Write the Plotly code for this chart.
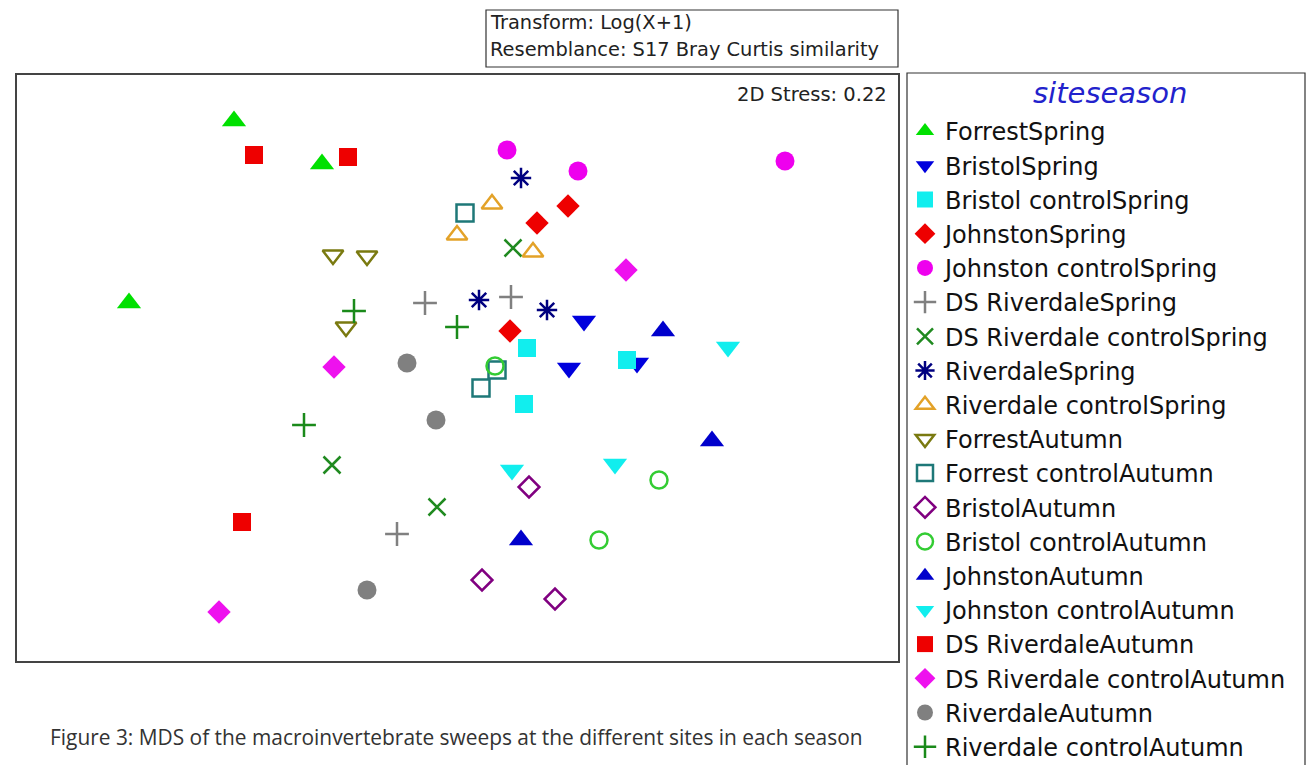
import plotly.graph_objects as go

# MDS ordination scores (arbitrary units, no tick labels)
groups = ['ForrestSpring', 'BristolSpring', 'Bristol controlSpring', 'JohnstonSpring',
          'Johnston controlSpring', 'DS RiverdaleSpring', 'DS Riverdale controlSpring',
          'RiverdaleSpring', 'Riverdale controlSpring', 'ForrestAutumn',
          'Forrest controlAutumn', 'BristolAutumn', 'Bristol controlAutumn',
          'JohnstonAutumn', 'Johnston controlAutumn', 'DS RiverdaleAutumn',
          'DS Riverdale controlAutumn', 'RiverdaleAutumn', 'Riverdale controlAutumn']

mds1 = [
    [2.17, 3.05, 1.12],
    [5.67, 5.52, 6.20],
    [5.10, 6.10, 5.07],
    [5.20, 5.51, 4.93],
    [4.90, 5.61, 7.68],
    [4.08, 4.94, 3.80],
    [4.96, 3.15, 4.20],
    [5.04, 4.62, 5.30],
    [4.75, 4.40, 5.16],
    [3.16, 3.50, 3.29],
    [4.48, 4.80, 4.64],
    [5.12, 4.65, 5.38],
    [4.78, 6.42, 5.82],
    [6.46, 6.95, 5.04],
    [7.11, 4.95, 5.98],
    [2.37, 3.31, 2.25],
    [6.09, 3.17, 2.02],
    [3.90, 4.19, 3.50],
    [3.37, 4.40, 2.87],
]
mds2 = [
    [5.40, 4.97, 3.58],
    [3.40, 2.93, 2.98],
    [3.13, 3.01, 2.57],
    [4.38, 4.55, 3.30],
    [5.11, 4.90, 5.00],
    [3.58, 3.64, 1.27],
    [4.13, 1.96, 1.54],
    [4.83, 3.61, 3.51],
    [4.57, 4.26, 4.09],
    [4.06, 4.05, 3.34],
    [4.48, 2.91, 2.73],
    [1.74, 0.81, 0.62],
    [2.95, 1.81, 1.21],
    [3.30, 2.20, 1.21],
    [3.14, 1.91, 1.97],
    [5.06, 5.04, 1.39],
    [3.91, 2.94, 0.49],
    [2.98, 2.41, 0.71],
    [3.50, 3.34, 2.36],
]

symbols = ['triangle-up', 'triangle-down', 'square', 'diamond', 'circle', 'cross-thin',
           'x-thin', 'asterisk-open', 'triangle-up-open', 'triangle-down-open',
           'square-open', 'diamond-open', 'circle-open', 'triangle-up', 'triangle-down',
           'square', 'diamond', 'circle', 'cross-thin']
colors = ['#00E000', '#0000DD', '#11EEEE', '#EE0000', '#EE00EE', '#808080', '#208A20',
          '#000080', '#E3A228', '#7A7A10', '#1E7878', '#800080', '#33CC33', '#0000CC',
          '#11EEEE', '#EE0000', '#EE11EE', '#808080', '#1A8A1A']
sizes = [21, 21, 18, 18, 19, 17, 17, 17, 18, 18, 17, 16, 17, 21, 21, 18, 18, 19, 17]

W, H = 1308, 765
L, R, T, B = 17, 898, 75, 661  # plot frame in pixels


def px(x):
    return (x - L) / (R - L)


def py(y):
    return 1 - (y - T) / (B - T)


fig = go.Figure()
for g, xs, ys, sym, col, sz in zip(groups, mds1, mds2, symbols, colors, sizes):
    lined = sym.endswith('open') or sym.endswith('thin')
    fig.add_trace(go.Scatter(
        x=xs, y=ys, mode='markers', name=g,
        marker=dict(symbol=sym, size=sz, color=col,
                    line=dict(color=col, width=2.5 if lined else 0)),
    ))

fig.update_xaxes(range=[0, 8.81], showline=True, mirror=True, linecolor='#444',
                 linewidth=1.5, showgrid=False, zeroline=False, showticklabels=False,
                 ticks='')
fig.update_yaxes(range=[0, 5.86], showline=True, mirror=True, linecolor='#444',
                 linewidth=1.5, showgrid=False, zeroline=False, showticklabels=False,
                 ticks='')

# Transform / resemblance box
fig.add_shape(type='rect', xref='paper', yref='paper',
              x0=px(486), x1=px(898), y0=py(67), y1=py(10),
              line=dict(color='#333', width=1.2), fillcolor='white')
fig.add_annotation(xref='paper', yref='paper', x=px(488), y=py(22),
                   xanchor='left', yanchor='middle', showarrow=False,
                   text='Transform: Log(X+1)',
                   font=dict(family='DejaVu Sans', size=19.4, color='#222'))
fig.add_annotation(xref='paper', yref='paper', x=px(488), y=py(49),
                   xanchor='left', yanchor='middle', showarrow=False,
                   text='Resemblance: S17 Bray Curtis similarity',
                   font=dict(family='DejaVu Sans', size=19.4, color='#222'))

fig.add_annotation(xref='paper', yref='paper', x=px(889), y=py(95),
                   xanchor='right', yanchor='middle', showarrow=False,
                   text='2D Stress: 0.22',
                   font=dict(family='DejaVu Sans', size=19.5, color='#222'))

# legend frame and title
fig.add_shape(type='rect', xref='paper', yref='paper',
              x0=px(907), x1=px(1305), y0=py(780), y1=py(73),
              line=dict(color='#333', width=1.2), fillcolor='white', layer='below')
fig.add_annotation(xref='paper', yref='paper', x=px(1110), y=py(93),
                   xanchor='center', yanchor='middle', showarrow=False,
                   text='siteseason',
                   font=dict(family='DejaVu Sans', size=29, color='#2222CC', style='italic'))

fig.add_annotation(xref='paper', yref='paper', x=px(48), y=py(737),
                   xanchor='left', yanchor='middle', showarrow=False,
                   text='Figure 3: MDS of the macroinvertebrate sweeps at the different sites in each season',
                   font=dict(family='Open Sans', size=20.9, color='#333'))

fig.update_layout(
    width=W, height=H,
    margin=dict(l=L, r=W - R, t=T, b=H - B, pad=0, autoexpand=False),
    paper_bgcolor='white', plot_bgcolor='white',
    showlegend=True,
    legend=dict(
        x=px(905), y=py(109), xanchor='left', yanchor='top',
        borderwidth=0, bgcolor='rgba(0,0,0,0)', maxheight=720,
        font=dict(family='DejaVu Sans', size=24, color='#111'),
        itemclick=False, itemdoubleclick=False,
    ),
)

fig.write_html('out.html', config={'displayModeBar': False},
               post_script="document.body.style.margin='0';")
